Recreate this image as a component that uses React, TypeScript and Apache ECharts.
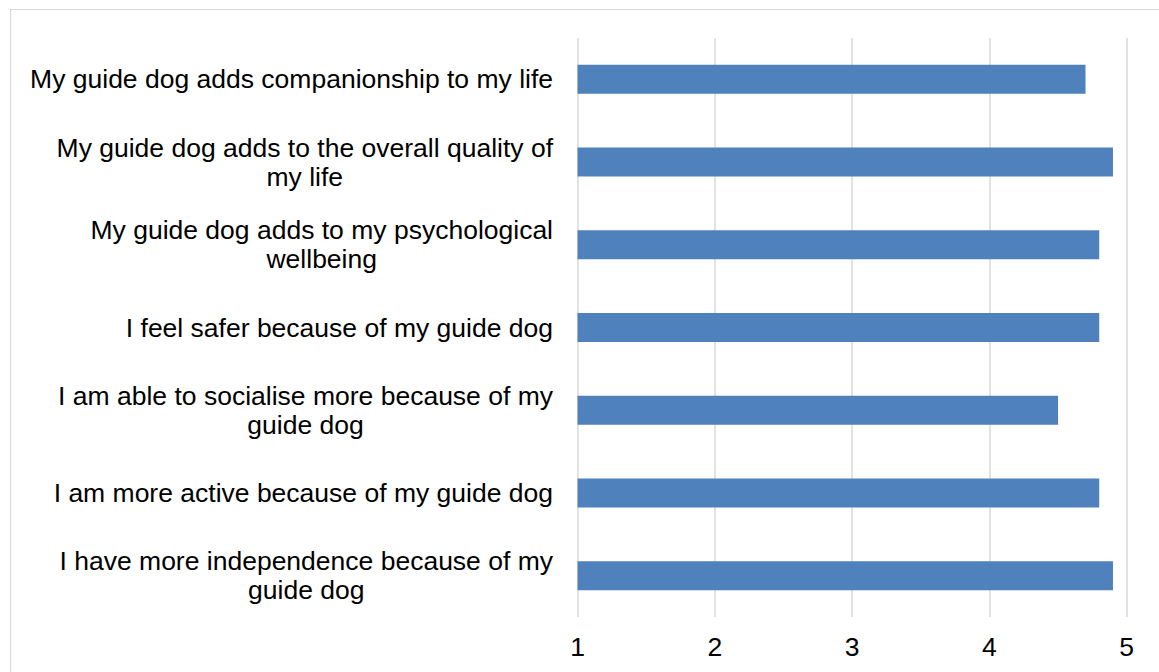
import React, { useEffect, useRef } from "react";
import * as echarts from "echarts";

const categories: string[] = [
  "My guide dog adds companionship to my life",
  "My guide dog adds to the overall quality of my life",
  "My guide dog adds to my psychological wellbeing",
  "I feel safer because of my guide dog",
  "I am able to socialise more because of my guide dog",
  "I am more active because of my guide dog",
  "I have more independence because of my guide dog",
];
const meanScores: number[] = [4.7, 4.9, 4.8, 4.8, 4.5, 4.8, 4.9];
const axisMin = 1;
const axisMax = 5;

const FONT = "'Liberation Sans', Arial, sans-serif";
const LABEL_SIZE = 26.5;
const WRAP_WIDTH = 528;

function wrapLabel(text: string): string[] {
  let ctx: CanvasRenderingContext2D | null = null;
  try {
    ctx = document.createElement("canvas").getContext("2d");
  } catch (e) {
    ctx = null;
  }
  const measure = (s: string) => {
    if (ctx) {
      ctx.font = `${LABEL_SIZE}px ${FONT}`;
      return ctx.measureText(s).width;
    }
    return s.length * LABEL_SIZE * 0.5;
  };
  const words = text.split(" ");
  const lines: string[] = [];
  let cur = "";
  for (const w of words) {
    const trial = cur ? cur + " " + w : w;
    if (measure(trial) > WRAP_WIDTH && cur) {
      lines.push(cur);
      cur = w;
    } else {
      cur = trial;
    }
  }
  if (cur) lines.push(cur);
  return lines;
}

export default function App() {
  const ref = useRef<HTMLDivElement>(null);
  useEffect(() => {
    if (!ref.current) return;
    const chart = echarts.init(ref.current, null, { renderer: "svg" });
    chart.setOption({
      animation: false,
      backgroundColor: "#ffffff",
      graphic: [
        {
          type: "rect",
          shape: { x: 10.5, y: 9.5, width: 1300, height: 800 },
          style: { fill: "none", stroke: "#d9d9d9", lineWidth: 1.2 },
          silent: true,
        },
      ],
      grid: { left: 577.5, right: 32.3, top: 38, bottom: 55, containLabel: false },
      xAxis: {
        type: "value",
        min: axisMin,
        max: axisMax,
        interval: 1,
        axisLine: { show: false },
        axisTick: { show: false },
        splitLine: { show: true, lineStyle: { color: "#d9d9d9", width: 1.5 } },
        axisLabel: {
          color: "#000",
          fontSize: LABEL_SIZE,
          fontFamily: FONT,
          margin: 16,
        },
      },
      yAxis: {
        type: "category",
        inverse: true,
        data: categories,
        axisLine: { show: false },
        axisTick: { show: false },
        splitLine: { show: false },
        axisLabel: {
          align: "right",
          margin: 24.5,
          formatter: (v: string) =>
            wrapLabel(v)
              .map((l) => `{c|${l}}`)
              .join("\n"),
          rich: {
            c: {
              align: "center",
              fontSize: LABEL_SIZE,
              fontFamily: FONT,
              color: "#000",
              lineHeight: 29,
            },
          },
        },
      },
      series: [
        {
          type: "bar",
          data: meanScores,
          barWidth: 29,
          itemStyle: { color: "#4f81bd" },
        },
      ],
    });
    return () => chart.dispose();
  }, []);
  return (
    <div
      ref={ref}
      style={{ position: "absolute", left: 0, top: 0, width: 1159, height: 672 }}
    />
  );
}
